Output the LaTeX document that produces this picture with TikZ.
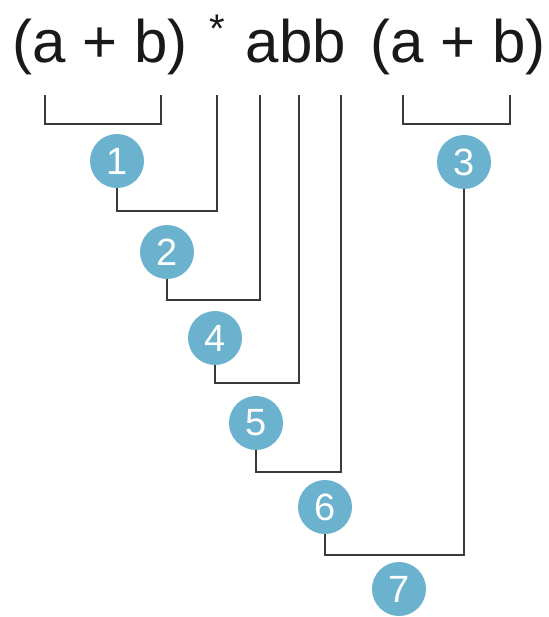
\documentclass[tikz,border=0pt]{standalone}
\usepackage{fontspec}
\setmainfont{Liberation Sans}
\definecolor{badge}{RGB}{107,178,206}
\definecolor{wire}{RGB}{58,58,58}
\definecolor{ink}{RGB}{25,25,25}
\begin{document}
\begin{tikzpicture}[x=1pt,y=-1pt,
  expr/.style={anchor=base, inner sep=0pt, text=ink, font=\fontsize{60}{60}\selectfont},
  sup/.style={anchor=base, inner sep=0pt, text=ink, font=\fontsize{40}{40}\selectfont},
  badge/.style={circle, fill=badge, minimum size=54pt, inner sep=0pt, text=white,
    font=\fontsize{38}{38}\selectfont},
  wire/.style={draw=wire, line width=1.8pt}]
\useasboundingbox (0,0) rectangle (548,617);

% the expression
\node[expr] (lhs) at (100,63) {(a + b)};
\node[sup]  (star) at (217,43) {*};
\node[expr] (abb) at (296,63) {abb};
\node[expr] (rhs) at (458,63) {(a + b)};

% top ends of the leads under each part
\coordinate (tl1) at (45,95);  \coordinate (tr1) at (161,95);
\coordinate (tl3) at (403,95); \coordinate (tr3) at (510,95);
\coordinate (tstar) at (217,95);
\coordinate (ta) at (260,95);
\coordinate (tb1) at (299,95);
\coordinate (tb2) at (341,95);

% numbered badges
\node[badge] (n1) at (117,161) {1};
\node[badge] (n3) at (464,162) {3};
\node[badge] (n2) at (167,252) {2};
\node[badge] (n4) at (215,338) {4};
\node[badge] (n5) at (256,423) {5};
\node[badge] (n6) at (325,507) {6};
\node[badge] (n7) at (399,589) {7};

% brackets under the two groups
\draw[wire] (tl1) -- ++(0,29) -| (tr1);
\draw[wire] (tl3) -- ++(0,29) -| (tr3);

% leads from the symbols to their badges
\draw[wire] (tstar) -- ++(0,116) -| (n1.south);
\draw[wire] (ta)    -- ++(0,205) -| (n2.south);
\draw[wire] (tb1)   -- ++(0,288) -| (n4.south);
\draw[wire] (tb2)   -- ++(0,377) -| (n5.south);
\draw[wire] (n3.south) -- ++(0,366) -| (n6.south);
\end{tikzpicture}
\end{document}
